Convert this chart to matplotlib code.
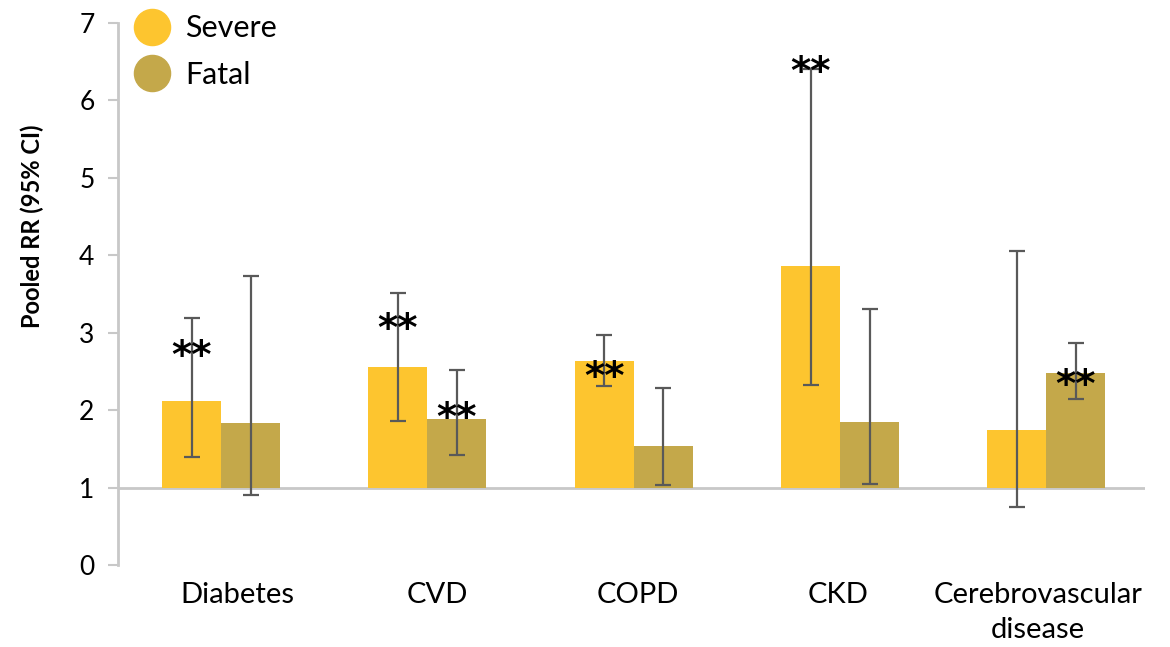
import numpy as np
import matplotlib.pyplot as plt
from matplotlib.lines import Line2D

plt.rcParams['font.family'] = ['Lato', 'DejaVu Sans']

categories = ['Diabetes', 'CVD', 'COPD', 'CKD', 'Cerebrovascular\ndisease']
severe_rr = [2.12, 2.56, 2.63, 3.86, 1.74]
severe_lo = [1.40, 1.86, 2.31, 2.32, 0.75]
severe_hi = [3.19, 3.51, 2.97, 6.41, 4.06]
fatal_rr = [1.83, 1.89, 1.54, 1.85, 2.48]
fatal_lo = [0.90, 1.42, 1.03, 1.04, 2.14]
fatal_hi = [3.73, 2.52, 2.29, 3.31, 2.87]

# significance markers: (category index, series, height)
stars = [(0, 'severe', 2.68), (1, 'severe', 3.03), (1, 'fatal', 1.89),
         (2, 'severe', 2.41), (3, 'severe', 6.36), (4, 'fatal', 2.31)]

c_severe = '#FDC52F'
c_fatal = '#C4A84A'
c_err = '#595959'
c_axis = '#C8C8C8'

fig = plt.figure(figsize=(11.7, 6.47), dpi=100)
ax = fig.add_axes([0.1009, 0.1267, 0.878, 0.8378])

x = np.arange(len(categories))
w = 0.286
base = 1.0

for off, rr, lo, hi, col in [(-w / 2, severe_rr, severe_lo, severe_hi, c_severe),
                             (w / 2, fatal_rr, fatal_lo, fatal_hi, c_fatal)]:
    rr = np.array(rr)
    ax.bar(x + off, rr - base, w, bottom=base, color=col, edgecolor='none', zorder=2)
    yerr = [rr - np.array(lo), np.array(hi) - rr]
    ax.errorbar(x + off, rr, yerr=yerr, fmt='none', ecolor=c_err, elinewidth=1.6,
                capsize=6, capthick=1.6, zorder=3)

for i, s, h in stars:
    off = -w / 2 if s == 'severe' else w / 2
    ax.text(x[i] + off, h, '**', ha='center', va='center', fontsize=28,
            family='DejaVu Sans', fontweight='bold', color='black', zorder=4)

ax.axhline(base, color=c_axis, lw=2, zorder=1)

ax.set_xlim(-0.5, 4.48)
ax.set_ylim(0, 7)
ax.set_yticks(range(8))
# category labels sit on a slightly tighter grid than the bar groups
ax.set_xticks(x * 0.97 + 0.08)
ax.set_xticklabels(categories, fontsize=21, linespacing=1.45)
ax.tick_params(axis='x', length=0, pad=12)
ax.tick_params(axis='y', labelsize=19, length=7, width=1.5, color=c_axis, pad=10)
for s in ['top', 'right', 'bottom']:
    ax.spines[s].set_visible(False)
ax.spines['left'].set_color(c_axis)
ax.spines['left'].set_linewidth(2)
ax.set_ylabel('Pooled RR (95% CI)', fontsize=17, fontweight='bold')
ax.yaxis.set_label_coords(-0.072, 0.625)

handles = [Line2D([], [], ls='none', marker='o', ms=26, color=c_severe),
           Line2D([], [], ls='none', marker='o', ms=26, color=c_fatal)]
ax.legend(handles, ['Severe', 'Fatal'], loc='upper left', bbox_to_anchor=(-0.015, 1.05),
          frameon=False, fontsize=22, handletextpad=0.1, labelspacing=0.6,
          borderaxespad=0.2)

fig.savefig('out.png', dpi=100)
